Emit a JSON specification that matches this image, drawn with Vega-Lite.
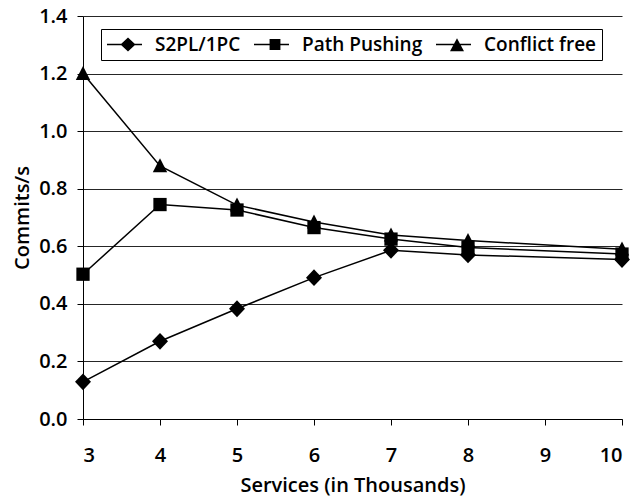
{
  "$schema": "https://vega.github.io/schema/vega-lite/v6.json",
  "width": 539,
  "height": 403,
  "autosize": {"type": "none"},
  "padding": {"left": 83, "top": 16, "right": 10, "bottom": 79},
  "background": "white",
  "config": {
    "view": {"stroke": null},
    "font": "Open Sans",
    "axis": {
      "domainColor": "black",
      "domainWidth": 1,
      "tickColor": "black",
      "tickSize": 6,
      "labelColor": "black",
      "titleColor": "black",
      "labelFont": "Open Sans",
      "titleFont": "Open Sans",
      "labelFontSize": 20,
      "labelFontWeight": 600,
      "titleFontSize": 20,
      "titleFontWeight": 600
    }
  },
  "data": {
    "values": [
      {"series": "S2PL/1PC", "services": 3, "commits": 0.129},
      {"series": "S2PL/1PC", "services": 4, "commits": 0.27},
      {"series": "S2PL/1PC", "services": 5, "commits": 0.383},
      {"series": "S2PL/1PC", "services": 6, "commits": 0.491},
      {"series": "S2PL/1PC", "services": 7, "commits": 0.586},
      {"series": "S2PL/1PC", "services": 8, "commits": 0.57},
      {"series": "S2PL/1PC", "services": 10, "commits": 0.554},
      {"series": "Path Pushing", "services": 3, "commits": 0.503},
      {"series": "Path Pushing", "services": 4, "commits": 0.745},
      {"series": "Path Pushing", "services": 5, "commits": 0.726},
      {"series": "Path Pushing", "services": 6, "commits": 0.665},
      {"series": "Path Pushing", "services": 7, "commits": 0.625},
      {"series": "Path Pushing", "services": 8, "commits": 0.596},
      {"series": "Path Pushing", "services": 10, "commits": 0.573},
      {"series": "Conflict free", "services": 3, "commits": 1.2},
      {"series": "Conflict free", "services": 4, "commits": 0.879},
      {"series": "Conflict free", "services": 5, "commits": 0.743},
      {"series": "Conflict free", "services": 6, "commits": 0.684},
      {"series": "Conflict free", "services": 7, "commits": 0.639},
      {"series": "Conflict free", "services": 8, "commits": 0.62},
      {"series": "Conflict free", "services": 10, "commits": 0.59}
    ]
  },
  "encoding": {
    "x": {
      "field": "services",
      "type": "quantitative",
      "scale": {"domain": [3, 10], "nice": false, "zero": false},
      "axis": {
        "values": [3, 4, 5, 6, 7, 8, 9, 10],
        "format": "d",
        "title": "Services (in Thousands)",
        "grid": false,
        "labelPadding": 20,
        "titlePadding": 10
      }
    },
    "y": {
      "field": "commits",
      "type": "quantitative",
      "scale": {"domain": [0, 1.4], "nice": false},
      "axis": {
        "values": [0, 0.2, 0.4, 0.6, 0.8, 1.0, 1.2, 1.4],
        "format": ".1f",
        "title": "Commits/s",
        "grid": true,
        "gridColor": "black",
        "gridWidth": 1,
        "gridOpacity": 0.85,
        "labelPadding": 10,
        "titlePadding": 6
      }
    }
  },
  "layer": [
    {
      "mark": {"type": "line", "color": "black", "strokeWidth": 1.5},
      "encoding": {"detail": {"field": "series", "type": "nominal"}}
    },
    {
      "mark": {"type": "point", "filled": true, "color": "black", "opacity": 1, "size": 64},
      "encoding": {
        "shape": {
          "field": "series",
          "type": "nominal",
          "scale": {
            "domain": ["S2PL/1PC", "Path Pushing", "Conflict free"],
            "range": [
              "M0,-2.1L2,0L0,2.1L-2,0Z",
              "M-1.66,-1.66L1.66,-1.66L1.66,1.66L-1.66,1.66Z",
              "M0,-1.9L1.8,1.6L-1.8,1.6Z"
            ]
          },
          "legend": null
        }
      }
    },
    {
      "transform": [{"filter": "false"}],
      "mark": {"type": "point", "filled": true, "color": "black", "opacity": 1, "size": 1225},
      "encoding": {
        "shape": {
          "field": "series",
          "type": "nominal",
          "scale": {
            "domain": ["S2PL/1PC", "Path Pushing", "Conflict free"],
            "range": [
              "M-1,-0.045L1,-0.045L1,0.045L-1,0.045ZM0.2,-0.4L0.63,0L0.2,0.4L-0.23,0Z",
              "M-1,-0.045L1,-0.045L1,0.045L-1,0.045ZM-0.11,-0.31L0.51,-0.31L0.51,0.31L-0.11,0.31Z",
              "M-1,-0.045L1,-0.045L1,0.045L-1,0.045ZM0.2,-0.36L0.6,0.38L-0.2,0.38Z"
            ]
          },
          "legend": {
            "title": null,
            "orient": "none",
            "legendX": 18,
            "legendY": 13,
            "direction": "horizontal",
            "strokeColor": "black",
            "fillColor": "white",
            "padding": 5,
            "clipHeight": 21,
            "symbolSize": 1225,
            "symbolFillColor": "black",
            "symbolOpacity": 1,
            "labelOffset": 12,
            "columnPadding": 12,
            "labelFont": "Open Sans",
            "labelFontSize": 19,
            "labelFontWeight": 600,
            "labelColor": "black"
          }
        }
      }
    }
  ],
  "resolve": {"scale": {"shape": "independent"}, "legend": {"shape": "independent"}}
}
